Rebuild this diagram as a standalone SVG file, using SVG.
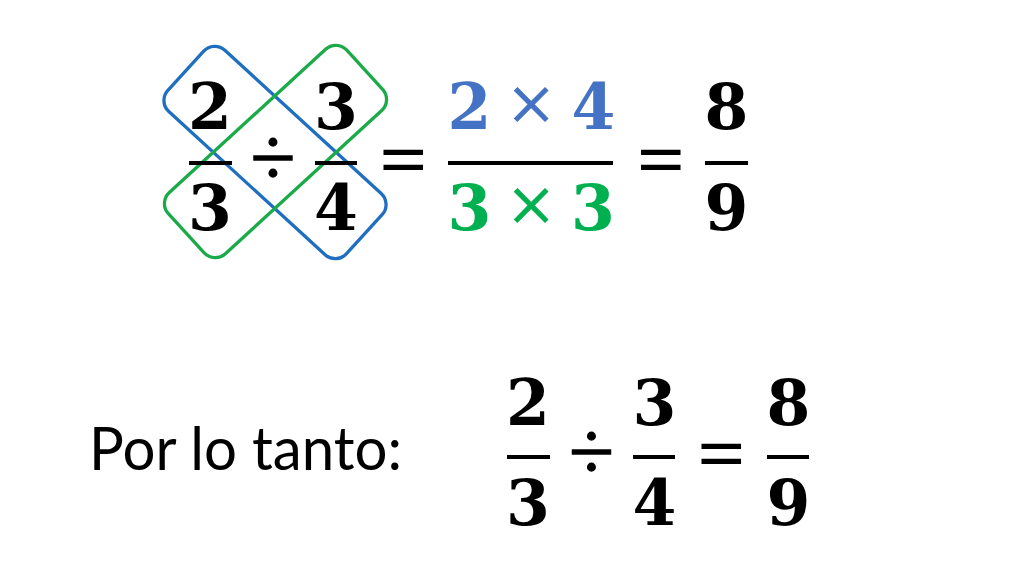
<svg xmlns="http://www.w3.org/2000/svg" width="1024" height="576" viewBox="0 0 1024 576">
<style>
.d{font-family:"DejaVu Serif",serif;font-weight:bold;font-size:63px;text-anchor:middle;fill:#000}
.eq{font-family:"Liberation Serif",serif;font-weight:bold;font-size:76px;text-anchor:middle;fill:#000}
.dv{font-family:"Liberation Serif",serif;font-size:82px;text-anchor:middle;fill:#000;stroke:#000;stroke-width:1.3}
.x{font-family:"Liberation Serif",serif;font-size:82px;text-anchor:middle;stroke-width:1}
.bar{stroke:#000;stroke-width:4}
.blue{fill:#4472C4}
.green{fill:#00B050}
.sb{stroke:#4472C4}
.sg{stroke:#00B050}
.loop{fill:none;stroke-width:3.3}
.lbl{font-family:Lato,"Liberation Sans",sans-serif;font-size:60px;fill:#000}
</style>
<rect width="1024" height="576" fill="#fff"/>
<g id="connectors">
<rect id="blue-loop" class="loop" x="-121" y="-41.5" width="242" height="83" rx="15" stroke="#1F6FC0" transform="translate(275,152.5) rotate(42.5)"/>
<rect id="green-loop" class="loop" x="-121" y="-41.5" width="242" height="83" rx="15" stroke="#1BAA4A" transform="translate(275.5,151.5) rotate(-42.5)"/>
</g>
<g id="top-left-fraction">
<text class="d" x="210" y="129">2</text>
<line class="bar" x1="189" y1="163" x2="232" y2="163"/>
<text class="d" x="210" y="230">3</text>
</g>
<g id="top-div"><text class="dv" x="273" y="185">÷</text></g>
<g id="top-right-fraction">
<text class="d" x="336" y="129">3</text>
<line class="bar" x1="315" y1="163" x2="357" y2="163"/>
<text class="d" x="336" y="230">4</text>
</g>
<g id="top-eq1"><text class="eq" transform="translate(403.5,184.5) scale(1.12,1)">=</text></g>
<g id="product-fraction">
<text class="d blue" x="469.5" y="129">2</text>
<text class="x blue sb" x="531" y="132">×</text>
<text class="d blue" x="593.5" y="129">4</text>
<line class="bar" x1="448" y1="163" x2="613" y2="163"/>
<text class="d green" x="469.5" y="230">3</text>
<text class="x green sg" x="531" y="232.5">×</text>
<text class="d green" x="593" y="230">3</text>
</g>
<g id="top-eq2"><text class="eq" transform="translate(661,184.5) scale(1.12,1)">=</text></g>
<g id="top-result">
<text class="d" x="726.5" y="129">8</text>
<line class="bar" x1="705" y1="163" x2="748" y2="163"/>
<text class="d" x="726.5" y="230">9</text>
</g>
<g id="label"><text class="lbl" x="89" y="470" textLength="313" lengthAdjust="spacingAndGlyphs">Por lo tanto:</text></g>
<g id="bottom-left-fraction">
<text class="d" x="528" y="425">2</text>
<line class="bar" x1="507" y1="457" x2="550" y2="457"/>
<text class="d" x="528" y="525">3</text>
</g>
<g id="bottom-div"><text class="dv" x="591.5" y="479">÷</text></g>
<g id="bottom-right-fraction">
<text class="d" x="654.5" y="425">3</text>
<line class="bar" x1="633" y1="457" x2="675" y2="457"/>
<text class="d" x="654.5" y="525">4</text>
</g>
<g id="bottom-eq"><text class="eq" transform="translate(721.5,478.5) scale(1.12,1)">=</text></g>
<g id="bottom-result">
<text class="d" x="788.5" y="425">8</text>
<line class="bar" x1="767" y1="457" x2="809" y2="457"/>
<text class="d" x="788.5" y="525">9</text>
</g>
</svg>
